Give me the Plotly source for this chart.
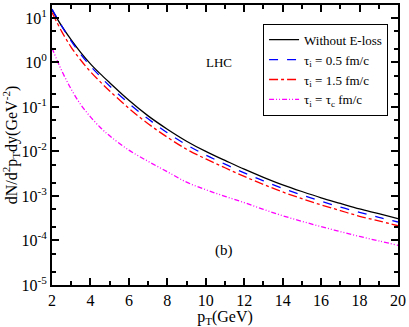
import plotly.graph_objects as go

SERIF = "Liberation Serif, Times New Roman, serif"

pt = [2, 2.5, 3, 3.5, 4, 4.5, 5, 6, 7, 8, 9, 10, 11, 12, 13, 14, 15, 16, 17, 18, 19, 20]

no_eloss = [15.1, 6.6, 3.2, 1.66, 0.93, 0.56, 0.35, 0.141, 0.063, 0.0316, 0.017,
            0.0100, 0.0063, 0.0040, 0.00263, 0.00178, 0.00126, 0.00091, 0.00068,
            0.00051, 0.00040, 0.00031]
tau_05 = [15.8, 6.6, 3.02, 1.51, 0.83, 0.49, 0.295, 0.120, 0.054, 0.0263, 0.0141,
          0.0083, 0.0052, 0.0033, 0.00219, 0.00148, 0.00105, 0.00076, 0.00056,
          0.00043, 0.00033, 0.00026]
tau_15 = [13.2, 5.0, 2.19, 1.12, 0.62, 0.37, 0.229, 0.093, 0.042, 0.0209, 0.0112,
          0.0068, 0.0043, 0.00275, 0.00182, 0.00123, 0.00087, 0.00063, 0.00047,
          0.00035, 0.000275, 0.000214]
tau_c = [2.1, 0.66, 0.25, 0.112, 0.060, 0.035, 0.0224, 0.0107, 0.0060, 0.0035,
         0.00204, 0.00138, 0.00098, 0.00071, 0.0005, 0.00036, 0.00027, 0.000204,
         0.000158, 0.000123, 0.000098, 0.000078]

y_tickvals = [1e-5, 1e-4, 1e-3, 1e-2, 1e-1, 1, 10]
y_ticktext = ["10<sup>-5</sup>", "10<sup>-4</sup>", "10<sup>-3</sup>", "10<sup>-2</sup>",
              "10<sup>-1</sup>", "10<sup>0</sup>", "10<sup>1</sup>"]

series = [
    ("Without E-loss", no_eloss, "#000000", "solid"),
    ("τ<sub>i</sub> = 0.5 fm/c", tau_05, "#0000ff", "dash"),
    ("τ<sub>i</sub> = 1.5 fm/c", tau_15, "#ff0000", "dashdot"),
    ("τ<sub>i</sub> = τ<sub>c</sub> fm/c", tau_c, "#ff00ff", "5px,2px,1px,2px,1px,2px"),
]

fig = go.Figure()
for name, vals, color, dash in series:
    fig.add_trace(go.Scatter(
        x=pt, y=vals, name=name, mode="lines", line_shape="spline",
        line=dict(color=color, width=1.3, dash=dash),
    ))

axis_common = dict(
    showline=True, linecolor="black", linewidth=2, mirror="allticks",
    ticks="inside", ticklen=7, tickwidth=1.5, tickcolor="black",
    showgrid=False, zeroline=False,
    tickfont=dict(family=SERIF, size=16, color="black"),
)

fig.update_xaxes(
    range=[2, 20], tickvals=list(range(2, 21, 2)),
    minor=dict(ticks="inside", ticklen=4, tickcolor="black", dtick=1),
    title=dict(text="p<sub>T</sub>(GeV)", font=dict(family=SERIF, size=16, color="black"),
               standoff=4),
    **axis_common,
)
fig.update_yaxes(
    type="log", range=[-5, 1.29], tickvals=y_tickvals, ticktext=y_ticktext,
    minor=dict(ticks="inside", ticklen=4, tickcolor="black"),
    title=dict(text="dN/d<sup>2</sup>p<sub>T</sub>dy(GeV<sup>-2</sup>)",
               font=dict(family=SERIF, size=16, color="black"), standoff=2),
    **axis_common,
)

fig.add_annotation(x=0.483, y=0.827, xref="paper", yref="paper", text="LHC",
                   showarrow=False, font=dict(family=SERIF, size=13, color="black"))
fig.add_annotation(x=0.497, y=0.085, xref="paper", yref="paper", text="(b)",
                   showarrow=False, font=dict(family=SERIF, size=15, color="black"))

fig.update_layout(
    width=409, height=327,
    margin=dict(l=52, r=9, t=3, b=41),
    paper_bgcolor="white", plot_bgcolor="white",
    legend=dict(x=0.61, y=0.933, xanchor="left", yanchor="top",
                bordercolor="black", borderwidth=1, bgcolor="white",
                font=dict(family=SERIF, size=13, color="black"),
                tracegroupgap=0, itemwidth=30),
)

fig.write_html("out.html", config={"displayModeBar": False},
               post_script="document.body.style.margin='0';")
